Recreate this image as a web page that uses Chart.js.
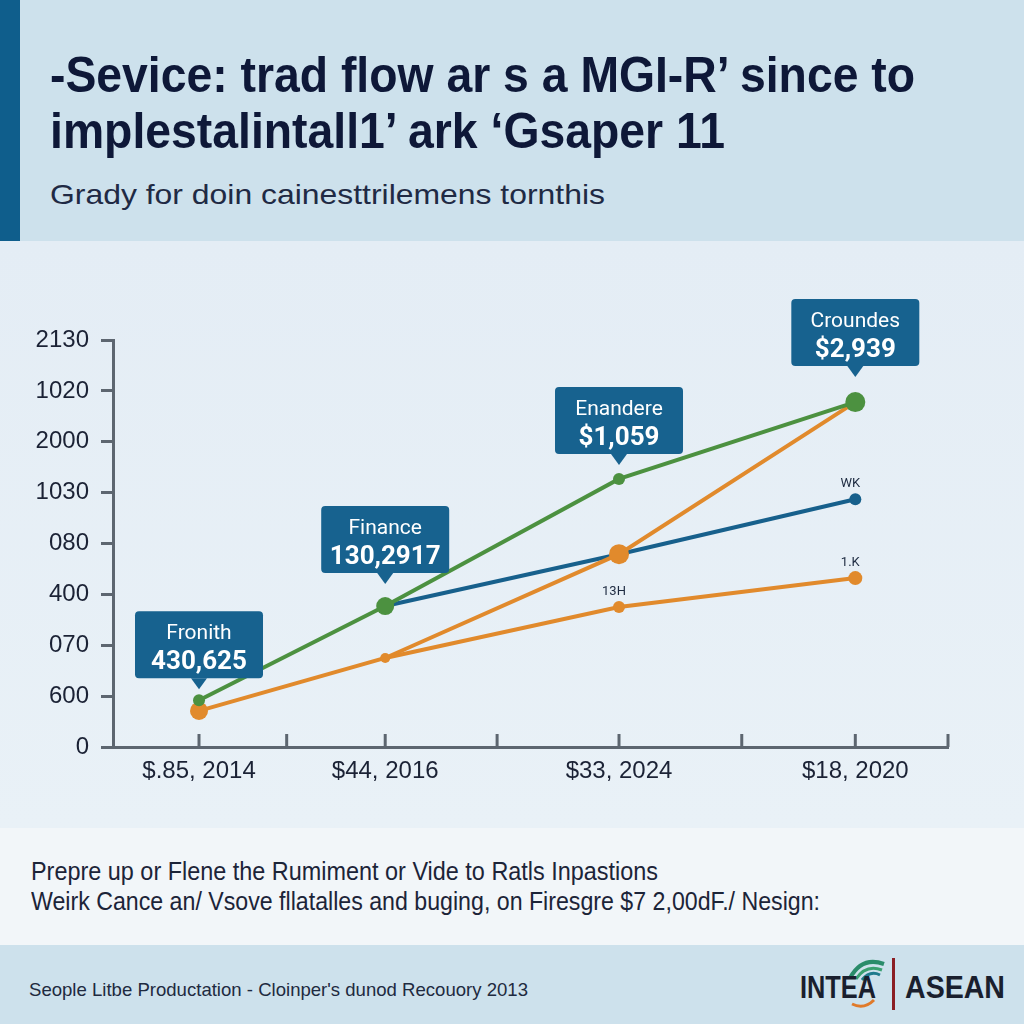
<!DOCTYPE html>
<html>
<head>
<meta charset="utf-8">
<script src="https://cdn.jsdelivr.net/npm/chart.js@4.4.1/dist/chart.umd.min.js"></script>
<style>
  html, body { margin: 0; padding: 0; }
  body { width: 1024px; height: 1024px; position: relative; overflow: hidden; background: #e7eff6; font-family: "Liberation Sans", Arial, sans-serif; }
  .band { position: absolute; left: 0; width: 1024px; }
  #header { top: 0; height: 241px; background: #cde1ec; }
  #stripe { position: absolute; left: 0; top: 0; width: 20px; height: 241px; background: #0f5e8c; }
  #plot { top: 241px; height: 587px; background: linear-gradient(180deg, #e4edf5 0%, #e9f1f7 100%); }
  #notes { top: 828px; height: 117px; background: #f2f6f9; }
  #footer { top: 945px; height: 79px; background: #cde1ec; }
  .txt { position: absolute; white-space: nowrap; transform-origin: left top; display: inline-block; }
  .title { font-family: "Liberation Sans Narrow", "Liberation Sans", sans-serif; font-weight: bold; font-size: 50px; line-height: 50px; color: #0e1838; left: 50px; }
  .sub { font-family: "Liberation Sans Narrow", "Liberation Sans", sans-serif; font-size: 28px; line-height: 28px; color: #1f2a44; left: 50px; }
  .note { font-family: "Liberation Sans Narrow", "Liberation Sans", sans-serif; font-size: 25px; line-height: 25px; color: #1c2438; left: 31px; }
  .foot { font-family: "Liberation Sans Narrow", "Liberation Sans", sans-serif; font-size: 19px; line-height: 19px; color: #1e2a40; left: 29px; }
  .logo { font-family: "Liberation Sans Narrow", "Liberation Sans", sans-serif; font-weight: bold; font-size: 31px; line-height: 31px; color: #1a1f2e; }
  #chartBox { position: absolute; left: 0; top: 240px; width: 1024px; height: 588px; }
</style>
</head>
<body>
<div class="band" id="header"><div id="stripe"></div></div>
<div class="band" id="plot"></div>
<div class="band" id="notes"></div>
<div class="band" id="footer"></div>

<div class="txt title" style="top:50px" data-fit="865">-Sevice: trad flow ar s a MGI-R’ since to</div>
<div class="txt title" style="top:106px" data-fit="675">implestalintall1’ ark ‘Gsaper 11</div>
<div class="txt sub" style="top:181px" data-fit="555">Grady for doin cainesttrilemens tornthis</div>

<div class="txt note" style="top:859px" data-fit="627">Prepre up or Flene the Rumiment or Vide to Ratls Inpastions</div>
<div class="txt note" style="top:889px" data-fit="789">Weirk Cance an/ Vsove fllatalles and buging, on Firesgre $7 2,00dF./ Nesign:</div>

<div class="txt foot" style="top:980px" data-fit="499">Seople Litbe Productation - Cloinper's dunod Recouory 2013</div>

<svg style="position:absolute;left:840px;top:952px" width="50" height="60">
  <path d="M10 26 Q22 4 44 12" stroke="#2a8c6a" stroke-width="4" fill="none"/>
  <path d="M16 27 Q26 12 42 18" stroke="#3aa070" stroke-width="3" fill="none"/>
  <path d="M22 28 Q30 18 40 23" stroke="#1f7a8c" stroke-width="3" fill="none"/>
  <path d="M12 52 Q24 58 34 48" stroke="#e07a2a" stroke-width="3" fill="none"/>
</svg>
<div class="txt logo" style="left:800px;top:972px" data-fit="76">INTEA</div>
<div style="position:absolute;left:892px;top:958px;width:3px;height:52px;background:#8b1e24"></div>
<div class="txt logo" style="left:905px;top:972px" data-fit="100">ASEAN</div>

<div id="chartBox"><canvas id="myChart" width="1024" height="588"></canvas></div>

<script>
// categorias y valores
const categories = ["$.85, 2014", "$44, 2016", "$33, 2024", "$18, 2020"];
const xValues = [10.3, 32.6, 60.6, 88.9];
const xTickValues = [10.3, 20.8, 32.6, 46.0, 60.6, 75.3, 88.9, 100];
const yTickLabels = ["0", "600", "070", "400", "080", "1030", "2000", "1020", "2130"];

const greenSeries = [0.92, 2.77, 5.27, 6.78];
const blueSeries = [null, 2.77, 3.79, 4.87];
const orangeSeries = [0.71, 1.75, 3.79, 6.78];
const orangeLowSeries = [null, 1.75, 2.75, 3.32];

const calloutTitles = ["Fronith", "Finance", "Enandere", "Croundes"];
const calloutValues = ["430,625", "130,2917", "$1,059", "$2,939"];
const blueTags = [null, null, null, "WK"];
const orangeLowTags = [null, null, "13H", "1.K"];

const GREEN = "#4c9140";
const BLUE = "#17608c";
const ORANGE = "#e18a2c";
const AXIS = "#5d6670";

// ajustar ancho de textos
document.querySelectorAll("[data-fit]").forEach(function (el) {
  var w = el.getBoundingClientRect().width;
  var target = parseFloat(el.getAttribute("data-fit"));
  el.style.transform = "scaleX(" + (target / w) + ")";
});

function toPoints(arr) {
  return arr.map(function (v, i) { return { x: xValues[i], y: v }; });
}

const tickMarks = {
  id: "tickMarks",
  beforeDatasetsDraw(chart) {
    const ctx = chart.ctx;
    const xs = chart.scales.x;
    const base = chart.chartArea.bottom;
    ctx.save();
    ctx.strokeStyle = AXIS;
    ctx.lineWidth = 3;
    xTickValues.forEach(function (v) {
      const px = xs.getPixelForValue(v);
      ctx.beginPath();
      ctx.moveTo(px, base);
      ctx.lineTo(px, base - 13);
      ctx.stroke();
    });
    ctx.restore();
  }
};

const callouts = {
  id: "callouts",
  afterDatasetsDraw(chart) {
    const ctx = chart.ctx;
    const lift = [22, 33, 25, 36];
    const meta = chart.getDatasetMeta(0);
    ctx.save();
    meta.data.forEach(function (pt, i) {
      const w = 128, h = 67;
      const bottom = pt.y - lift[i];
      const top = bottom - h;
      const left = pt.x - w / 2;
      ctx.fillStyle = "#17628f";
      ctx.beginPath();
      ctx.roundRect(left, top, w, h, 4);
      ctx.fill();
      ctx.beginPath();
      ctx.moveTo(pt.x - 8, bottom);
      ctx.lineTo(pt.x + 8, bottom);
      ctx.lineTo(pt.x, bottom + 11);
      ctx.closePath();
      ctx.fill();
      ctx.fillStyle = "#ffffff";
      ctx.textAlign = "center";
      ctx.textBaseline = "alphabetic";
      ctx.font = "21px Roboto, 'Liberation Sans', sans-serif";
      ctx.fillText(calloutTitles[i], pt.x, top + 28);
      ctx.font = "bold 26px Roboto, 'Liberation Sans', sans-serif";
      ctx.fillText(calloutValues[i], pt.x, top + 58);
    });

    // etiquetas pequeñas
    ctx.fillStyle = "#1d2a40";
    ctx.font = "13px Roboto, 'Liberation Sans', sans-serif";
    ctx.textAlign = "center";
    ctx.textBaseline = "middle";
    [[2, blueTags], [3, orangeLowTags]].forEach(function (pair) {
      const m = chart.getDatasetMeta(pair[0]);
      pair[1].forEach(function (t, i) {
        if (!t) return;
        const p = m.data[i];
        ctx.fillText(t, p.x - 5, p.y - 15);
      });
    });
    ctx.restore();
  }
};

const myChart = new Chart("myChart", {
  type: "line",
  data: {
    datasets: [
      {
        label: "Green",
        data: toPoints(greenSeries),
        borderColor: GREEN,
        backgroundColor: GREEN,
        borderWidth: 4,
        pointRadius: [6, 9, 6, 10],
        pointBorderWidth: 0,
        order: 1
      },
      {
        label: "Orange",
        data: toPoints(orangeSeries),
        borderColor: ORANGE,
        backgroundColor: ORANGE,
        borderWidth: 4,
        pointRadius: [9, 5, 10, 5],
        pointBorderWidth: 0,
        order: 2
      },
      {
        label: "Blue",
        data: toPoints(blueSeries),
        borderColor: BLUE,
        backgroundColor: BLUE,
        borderWidth: 4,
        pointRadius: [0, 0, 0, 6],
        pointBorderWidth: 0,
        order: 3
      },
      {
        label: "Orange 2",
        data: toPoints(orangeLowSeries),
        borderColor: ORANGE,
        backgroundColor: ORANGE,
        borderWidth: 4,
        pointRadius: [0, 0, 6, 7],
        pointBorderWidth: 0,
        order: 4
      }
    ]
  },
  options: {
    responsive: false,
    animation: false,
    clip: false,
    layout: { padding: { top: 100, right: 76, bottom: 36, left: 0 } },
    plugins: {
      legend: { display: false },
      tooltip: { enabled: false }
    },
    scales: {
      x: {
        type: "linear",
        min: 0,
        max: 100,
        afterBuildTicks: function (scale) {
          scale.ticks = xTickValues.map(function (v) { return { value: v }; });
        },
        afterFit: function (scale) { scale.height = 45; },
        grid: { display: true, drawOnChartArea: false, drawTicks: false },
        border: { display: true, color: AXIS, width: 3 },
        ticks: {
          autoSkip: false,
          maxRotation: 0,
          padding: 10,
          color: "#1b2235",
          font: { size: 24, family: "'Liberation Sans', Arial, sans-serif" },
          callback: function (value) {
            const i = xValues.findIndex(function (v) { return Math.abs(v - value) < 0.01; });
            return i >= 0 ? categories[i] : "";
          }
        }
      },
      y: {
        min: 0,
        max: 8,
        afterFit: function (scale) { scale.width = 113; },
        grid: { drawOnChartArea: false, tickLength: 12, tickWidth: 3, tickColor: AXIS },
        border: { display: true, color: AXIS, width: 3 },
        ticks: {
          stepSize: 1,
          padding: 12,
          color: "#1b2235",
          font: { size: 24, family: "'Liberation Sans', Arial, sans-serif" },
          callback: function (value) { return yTickLabels[value]; }
        }
      }
    }
  },
  plugins: [tickMarks, callouts]
});
</script>
</body>
</html>
